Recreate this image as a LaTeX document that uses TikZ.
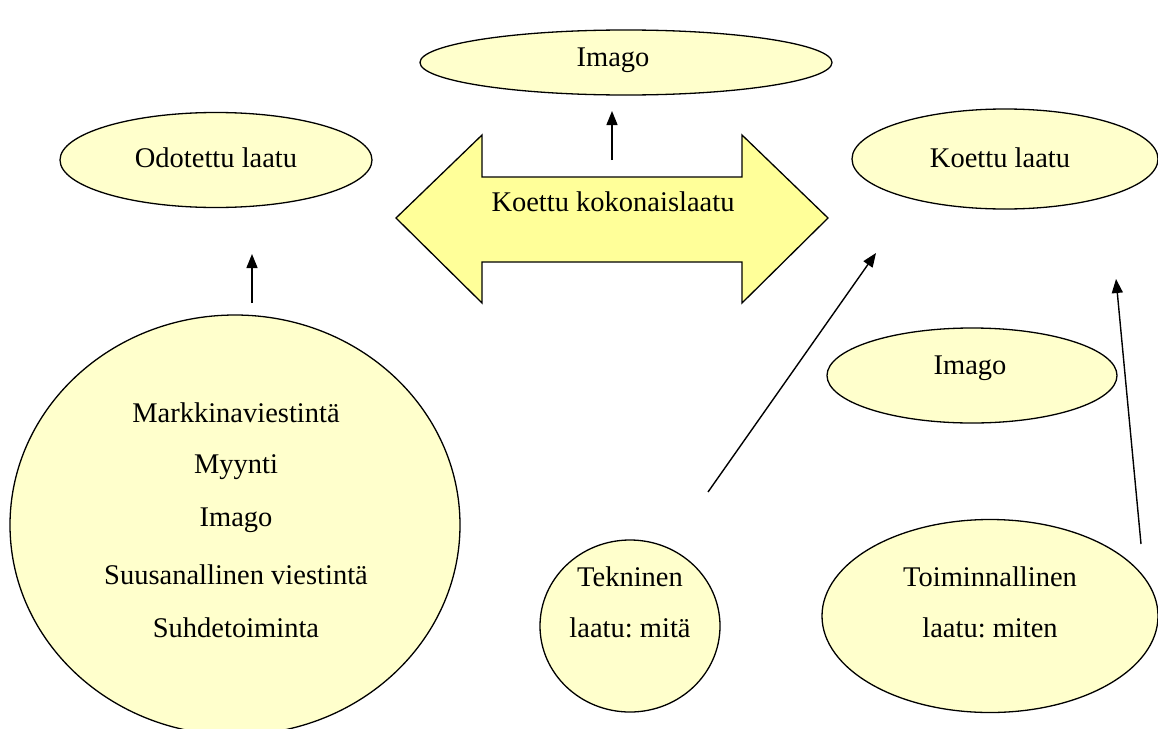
\documentclass[tikz,border=0pt]{standalone}
\usepackage{fontspec}
\setmainfont{Liberation Serif}
\usetikzlibrary{shapes.geometric,arrows.meta}
\definecolor{ellfill}{HTML}{FFFFCC}
\definecolor{arrfill}{HTML}{FFFF99}
\frenchspacing
\tikzset{
  ell/.style={ellipse,draw=black,line width=1.3pt,fill=ellfill,inner sep=0pt},
  lbl/.style={font=\fontsize{28.5}{32}\selectfont,inner sep=0pt,anchor=center},
  conn/.style={line width=1.4pt,-{Triangle[length=14pt,width=11pt]}}
}
\begin{document}
\begin{tikzpicture}[x=1pt,y=-1pt]
\useasboundingbox (0,0) rectangle (1158,728);
% ellipses
\node[ell,minimum width=412pt,minimum height=65pt] (imtop) at (626,62.5) {};
\node[ell,minimum width=312pt,minimum height=95pt] (odo) at (216,160) {};
\node[ell,minimum width=306pt,minimum height=100pt] (koe) at (1005,159) {};
\node[ell,minimum width=290pt,minimum height=95pt] (imsm) at (972,375.5) {};
\node[ell,minimum width=450pt,minimum height=420pt] (big) at (235,525) {};
\node[ell,minimum width=180pt,minimum height=172pt] (tek) at (630,626) {};
\node[ell,minimum width=336pt,minimum height=193pt] (toi) at (990,616) {};
% double arrow
\draw[line width=1.3pt,fill=arrfill,line join=miter]
  (396,218) -- (482,135) -- (482,177) -- (742,177) -- (742,135) -- (828,218)
  -- (742,303) -- (742,262) -- (482,262) -- (482,303) -- cycle;
\node[lbl] (kok) at (613,202) {Koettu kokonaislaatu};
% labels
\node[lbl] (timago) at (613,60) {Imago};
\node[lbl] (todo) at (216,158) {Odotettu laatu};
\node[lbl] (tkoe) at (1000,158) {Koettu laatu};
\node[lbl] (timsm) at (970,368) {Imago};
\node[lbl] (b1) at (236,413) {Markkinaviestintä};
\node[lbl] (b2) at (236,467) {Myynti};
\node[lbl] (b3) at (236,520) {Imago};
\node[lbl] (b4) at (236,575) {Suusanallinen viestintä};
\node[lbl] (b5) at (236,628) {Suhdetoiminta};
\node[lbl] (t1) at (630,577) {Tekninen};
\node[lbl] (t2) at (630,628) {laatu: mitä};
\node[lbl] (s1) at (990,577) {Toiminnallinen};
\node[lbl] (s2) at (990,628) {laatu: miten};
% connectors
\coordinate (c1s) at (612,160);
\coordinate (c1e) at (612,111);
\coordinate (c2s) at (252,303);
\coordinate (c2e) at (252,254);
\coordinate (c3s) at (708,492);
\coordinate (c3e) at (876,253);
\coordinate (c4s) at (1141,544);
\coordinate (c4e) at (1116,279);
\draw[conn] (c1s) -- (c1e);
\draw[conn] (c2s) -- (c2e);
\draw[conn] (c3s) -- (c3e);
\draw[conn] (c4s) -- (c4e);
\end{tikzpicture}
\end{document}
